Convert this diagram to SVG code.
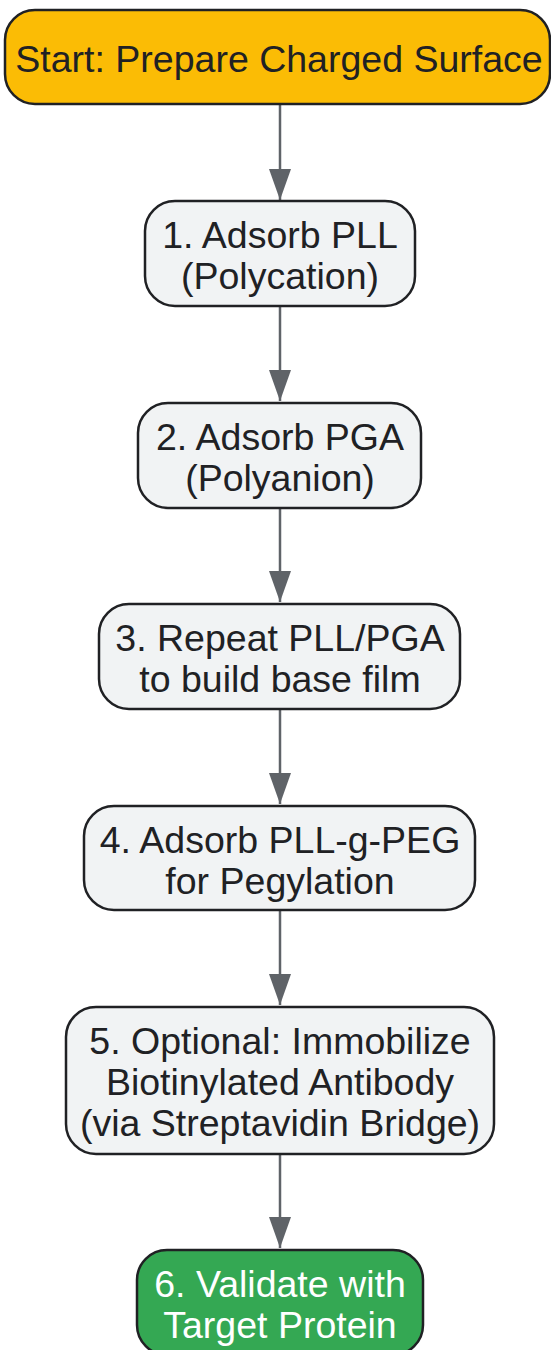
<svg xmlns="http://www.w3.org/2000/svg" width="551" height="1350" viewBox="0 0 551 1350">
<style>
.node rect{stroke:#202124;stroke-width:2.5}
.gray rect{fill:#F1F3F4}
.start rect{fill:#FBBC05}
.end rect{fill:#34A853}
text{font-family:"Liberation Sans",Arial,sans-serif;font-size:37.5px;text-anchor:middle;fill:#202124}
.end text{fill:#FFFFFF}
.conn line{stroke:#5F6368;stroke-width:2.5;fill:none}
</style>
<defs>
<marker id="arr" markerUnits="userSpaceOnUse" markerWidth="31" markerHeight="22" refX="31" refY="11" orient="auto">
<path d="M0,0 L31,11 L0,22 z" fill="#5F6368"/>
</marker>
</defs>
<rect width="551" height="1350" fill="#FFFFFF"/>
<g id="connectors" class="conn">
<line x1="280" y1="104" x2="280" y2="200" marker-end="url(#arr)"/>
<line x1="280" y1="306" x2="280" y2="401" marker-end="url(#arr)"/>
<line x1="280" y1="508" x2="280" y2="602" marker-end="url(#arr)"/>
<line x1="280" y1="709" x2="280" y2="804" marker-end="url(#arr)"/>
<line x1="280" y1="910" x2="280" y2="1005" marker-end="url(#arr)"/>
<line x1="280" y1="1154" x2="280" y2="1248" marker-end="url(#arr)"/>
</g>
<g id="start" class="node start">
<rect x="5" y="10" width="545" height="94" rx="30"/>
<text x="279" y="71.5">Start: Prepare Charged Surface</text>
</g>
<g id="step1" class="node gray">
<rect x="145" y="201" width="270" height="105" rx="30"/>
<text x="280" y="248">1. Adsorb PLL</text>
<text x="280" y="289">(Polycation)</text>
</g>
<g id="step2" class="node gray">
<rect x="138" y="403" width="283" height="105" rx="30"/>
<text x="280" y="450">2. Adsorb PGA</text>
<text x="280" y="491">(Polyanion)</text>
</g>
<g id="step3" class="node gray">
<rect x="99" y="604" width="361" height="105" rx="30"/>
<text x="280" y="651">3. Repeat PLL/PGA</text>
<text x="280" y="692">to build base film</text>
</g>
<g id="step4" class="node gray">
<rect x="84" y="806" width="391" height="104" rx="30"/>
<text x="280" y="852.5">4. Adsorb PLL-g-PEG</text>
<text x="280" y="893.5">for Pegylation</text>
</g>
<g id="step5" class="node gray">
<rect x="66" y="1007" width="428" height="147" rx="30"/>
<text x="280" y="1054">5. Optional: Immobilize</text>
<text x="280" y="1095">Biotinylated Antibody</text>
<text x="280" y="1136">(via Streptavidin Bridge)</text>
</g>
<g id="step6" class="node end">
<rect x="137" y="1250" width="286" height="105" rx="30"/>
<text x="280" y="1296.5">6. Validate with</text>
<text x="280" y="1337.5">Target Protein</text>
</g>
</svg>
